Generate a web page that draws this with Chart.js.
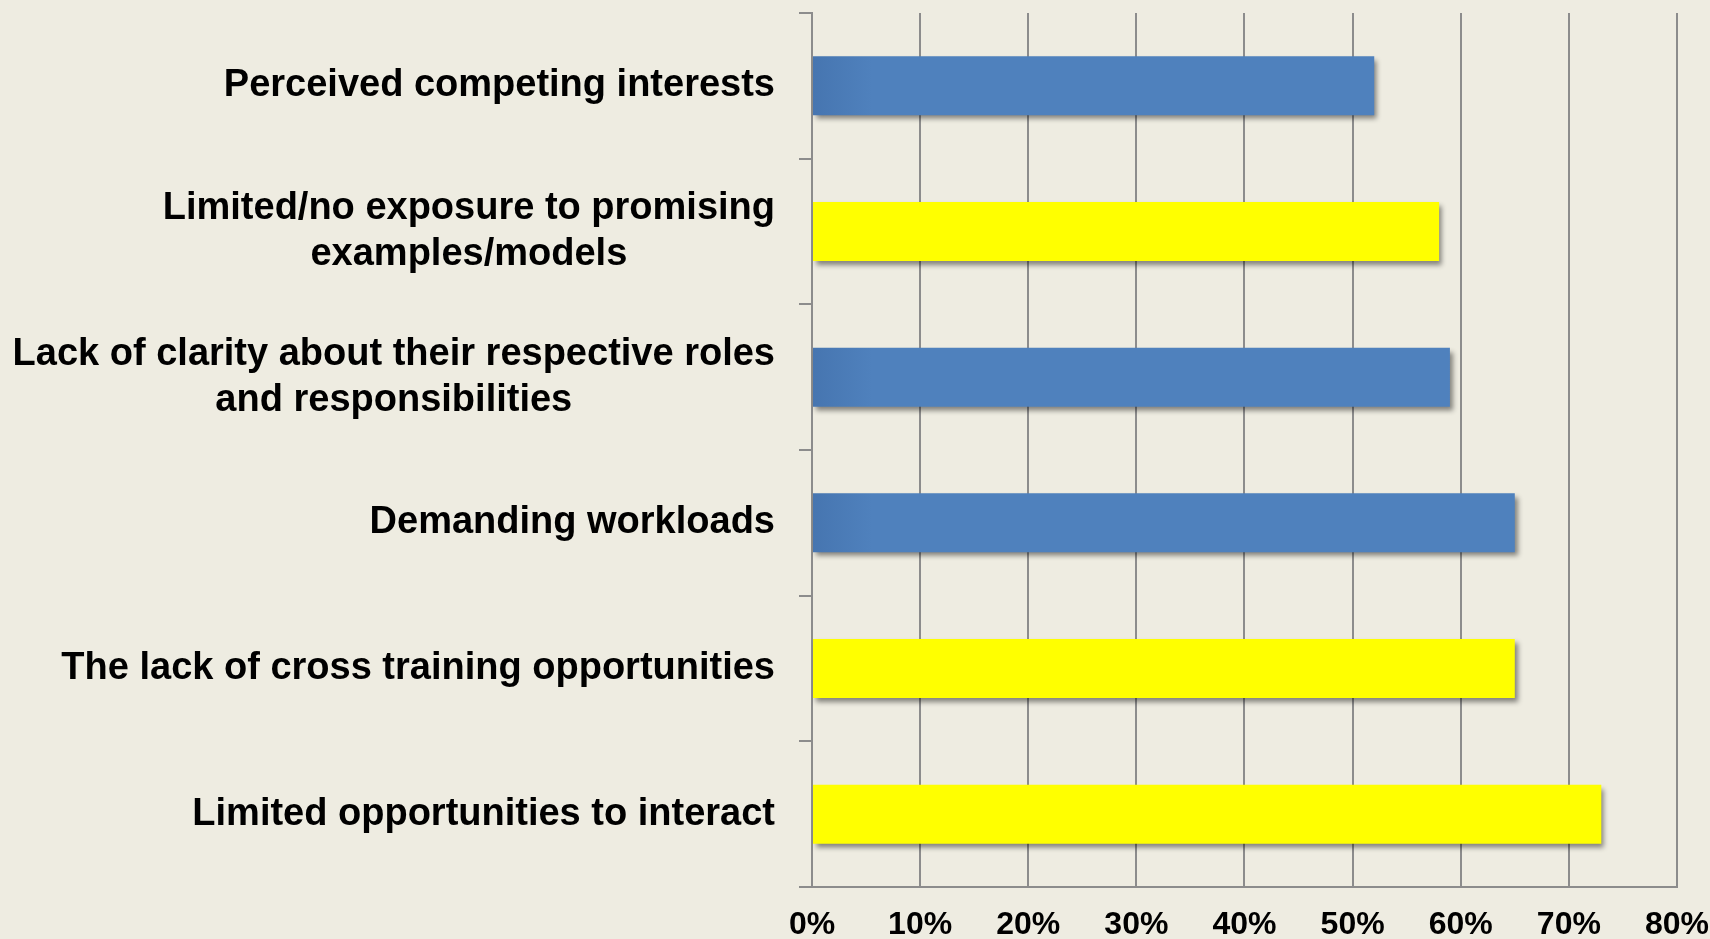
<!DOCTYPE html>
<html>
<head>
<meta charset="utf-8">
<script src="https://cdn.jsdelivr.net/npm/chart.js@4.4.1/dist/chart.umd.min.js"></script>
<style>
  html, body { margin: 0; padding: 0; background: #EEECE1; }
  #wrap { width: 1710px; height: 939px; position: relative; }
</style>
</head>
<body>
<div id="wrap"><canvas id="c"></canvas></div>
<script>
const categories = [
  ["Perceived competing interests"],
  ["Limited/no exposure to promising", "examples/models"],
  ["Lack of clarity about their respective roles", "and responsibilities"],
  ["Demanding workloads"],
  ["The lack of cross training opportunities"],
  ["Limited opportunities to interact"]
];
const values = [52, 58, 59, 65, 65, 73];
const barColors = ["blue", "yellow", "blue", "blue", "yellow", "yellow"];
const tickLabels = ["0%", "10%", "20%", "30%", "40%", "50%", "60%", "70%", "80%"];

const GRID = "#8C8C8C";
const BLUE = "#4F81BD";
const YELLOW = "#FFFF00";

function bg(ctx) {
  const kind = barColors[ctx.dataIndex];
  if (kind === "yellow") return YELLOW;
  const chart = ctx.chart;
  const area = chart.chartArea;
  if (!area) return BLUE;
  const g = chart.ctx.createLinearGradient(area.left, 0, area.left + 60, 0);
  g.addColorStop(0, "#4675B0");
  g.addColorStop(1, BLUE);
  return g;
}

const shadowPlugin = {
  id: "shadow",
  beforeDatasetsDraw(chart) {
    const c = chart.ctx;
    c.save();
    c.shadowColor = "rgba(0,0,0,0.45)";
    c.shadowBlur = 5;
    c.shadowOffsetX = 3;
    c.shadowOffsetY = 4;
  },
  afterDatasetsDraw(chart) {
    chart.ctx.restore();
  }
};

const labelPlugin = {
  id: "catLabels",
  afterDraw(chart) {
    const c = chart.ctx;
    const y = chart.scales.y;
    const font = 'bold 38px "Liberation Sans", Arial, sans-serif';
    const lineH = 46;
    const rightX = y.right - 13 - 24;
    c.save();
    c.font = font;
    c.fillStyle = "#000000";
    c.textBaseline = "middle";
    c.textAlign = "center";
    categories.forEach((lines, i) => {
      const cy = y.getPixelForValue(i);
      let maxW = 0;
      lines.forEach(l => { maxW = Math.max(maxW, c.measureText(l).width); });
      const cx = rightX - maxW / 2;
      const startY = cy - (lines.length - 1) * lineH / 2;
      lines.forEach((l, k) => c.fillText(l, cx, startY + k * lineH));
    });
    c.restore();
  }
};

new Chart(document.getElementById("c"), {
  type: "bar",
  data: {
    labels: categories,
    datasets: [{
      data: values,
      backgroundColor: bg,
      borderWidth: 0,
      barPercentage: 0.405,
      categoryPercentage: 1
    }]
  },
  options: {
    indexAxis: "y",
    responsive: true,
    maintainAspectRatio: false,
    animation: false,
    layout: { padding: { top: 13, right: 0, bottom: 0, left: 0 } },
    plugins: { legend: { display: false }, tooltip: { enabled: false } },
    scales: {
      x: {
        min: 0,
        max: 80,
        afterFit(s) { s.height = 52; },
        ticks: {
          stepSize: 10,
          padding: 1,
          maxRotation: 0,
          color: "#000000",
          font: { family: '"Liberation Sans", Arial, sans-serif', size: 32, weight: "bold", lineHeight: 2.31 },
          callback: (v, i) => tickLabels[i]
        },
        grid: { color: GRID, lineWidth: 2, drawTicks: false },
        border: { display: true, color: GRID, width: 2 }
      },
      y: {
        afterFit(s) { s.width = 812; },
        ticks: { display: false },
        grid: { offset: true, drawOnChartArea: false, drawTicks: true, tickLength: 13, color: GRID, lineWidth: 2 },
        border: { display: true, color: GRID, width: 2 }
      }
    }
  },
  plugins: [shadowPlugin, labelPlugin]
});
</script>
</body>
</html>
